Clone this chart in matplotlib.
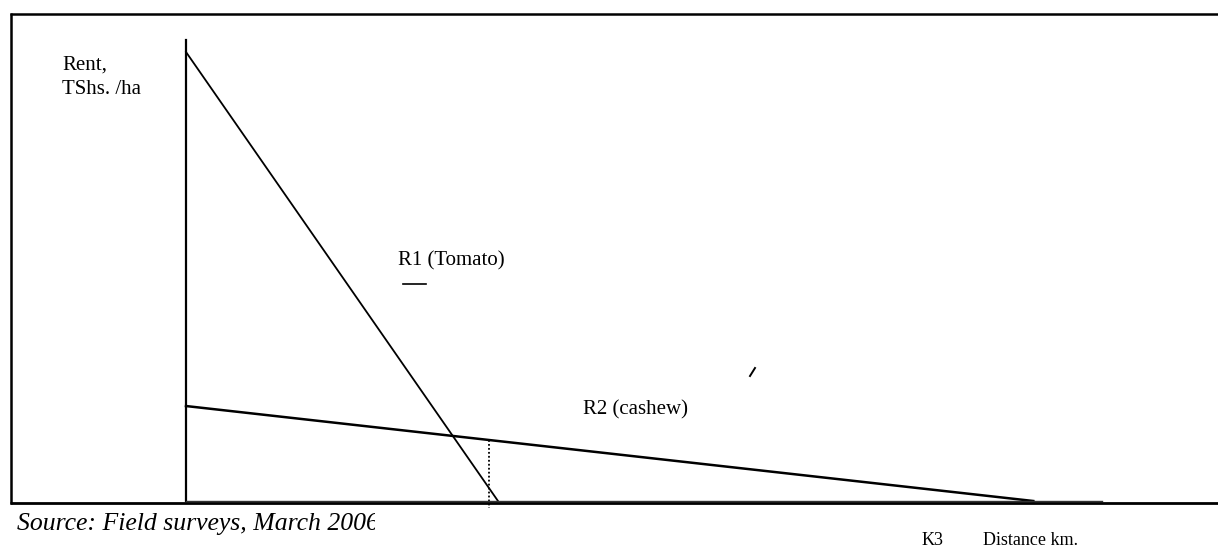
import matplotlib
matplotlib.use("Agg")
import matplotlib.pyplot as plt
from matplotlib.lines import Line2D
from matplotlib.transforms import Bbox, TransformedBbox

# ---- data (conceptual units: distance 0-100, rent 0-100) ----
r1_distance = [0, 34.06]
r1_rent = [97.4, 0]
r2_distance = [0, 92.5]
r2_rent = [20.6, 0]
cut_distance = [33.1, 33.1]
cut_rent = [13.2, -1.5]
x_limits = [0, 100]
y_limits = [0, 100]

W, H = 1218, 547
plt.rcParams['font.family'] = ['Liberation Serif', 'DejaVu Serif']
fig = plt.figure(figsize=(W / 100, H / 100), dpi=100)


def fx(px):
    return px / W


def fy(py):
    return 1 - py / H


# outer frame (top, left, bottom)
for xs, ys, lw in [([10, 1218], [14, 14], 1.8), ([11, 11], [13, 504], 1.8),
                   ([10, 1218], [503, 503], 2.0)]:
    fig.add_artist(Line2D([fx(v) for v in xs], [fy(v) for v in ys],
                          transform=fig.transFigure, color='black', lw=lw,
                          solid_capstyle='butt'))

# main axes
left, right, top, bottom = 186, 1102, 40, 501
ax = fig.add_axes([fx(left), fy(bottom), fx(right - left), (bottom - top) / H])
ax.set_xlim(*x_limits)
ax.set_ylim(*y_limits)
ax.patch.set_alpha(0)
for s in ['top', 'right']:
    ax.spines[s].set_visible(False)
ax.spines['left'].set_linewidth(1.6)
ax.spines['bottom'].set_linewidth(1.0)
ax.spines['bottom'].set_color('#333333')
ax.set_xticks([])
ax.set_yticks([])

ax.plot(r1_distance, r1_rent, color='black', lw=1.3, clip_on=False)
ax.plot(r2_distance, r2_rent, color='black', lw=1.8, clip_on=False)
ax.plot(cut_distance, cut_rent, color='black', lw=1.3, ls=(0, (1, 1.2)), clip_on=False)

# stray marks
fig.add_artist(Line2D([fx(403), fx(426)], [fy(284), fy(284)], transform=fig.transFigure,
                      color='black', lw=1.2))
fig.add_artist(Line2D([fx(750), fx(755)], [fy(376), fy(368)], transform=fig.transFigure,
                      color='black', lw=1.4))

# texts
fig.text(fx(62), fy(70), "Rent,", fontsize=15, va='baseline')
fig.text(fx(62), fy(94), "TShs. /ha", fontsize=15, va='baseline')
fig.text(fx(398), fy(265), "R1 (Tomato)", fontsize=15, va='baseline')
fig.text(fx(583), fy(414), "R2 (cashew)", fontsize=15, va='baseline')
fig.text(fx(922), fy(545), "K3", fontsize=13, va='baseline')
fig.text(fx(983), fy(545), "Distance km.", fontsize=13, va='baseline')
src = fig.text(fx(17), fy(530), "Source: Field surveys, March 2006", fontsize=18.5,
               style='italic', va='baseline')
src.set_clip_box(TransformedBbox(Bbox([[0, 0], [fx(375), 1]]), fig.transFigure))
src.set_clip_on(True)

fig.savefig("out.png", dpi=100)
